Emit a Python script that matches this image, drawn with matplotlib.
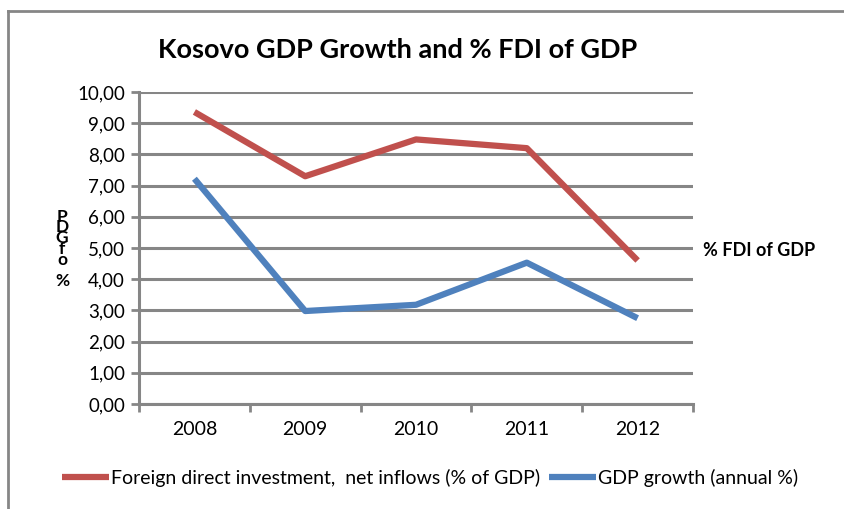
"""
Kosovo GDP growth and FDI share of GDP, line chart
"""
import matplotlib
matplotlib.use("Agg")
from matplotlib import pyplot as plt
from matplotlib.lines import Line2D
from matplotlib.ticker import FuncFormatter, FixedLocator

years = ["2008", "2009", "2010", "2011", "2012"]
fdi = [9.36, 7.30, 8.48, 8.20, 4.60]
gdp_growth = [7.22, 2.98, 3.18, 4.53, 2.75]

RED = "#c0504d"
BLUE = "#4f81bd"
GRID = "#868686"

plt.rcParams["font.family"] = ["Lato", "DejaVu Sans"]

fig = plt.figure(figsize=(8.45, 5.09), dpi=100)
W, H = 845, 509

# outer chart border (only top and left visible in the original)
fig.add_artist(Line2D([8 / W, 8 / W], [0, 1 - 11 / H], color=GRID, lw=2, transform=fig.transFigure))
fig.add_artist(Line2D([8 / W, 1], [1 - 11 / H, 1 - 11 / H], color=GRID, lw=2, transform=fig.transFigure))

ax = fig.add_axes([139 / W, 1 - 404 / H, (693 - 139) / W, (404 - 92) / H])

x = list(range(len(years)))
ax.plot(x, fdi, color=RED, lw=4.5, solid_capstyle="butt", zorder=3,
        label="Foreign direct investment,  net inflows (% of GDP)")
ax.plot(x, gdp_growth, color=BLUE, lw=4.5, solid_capstyle="butt", zorder=3,
        label="GDP growth (annual %)")

ax.set_xlim(-0.5, len(years) - 0.5)
ax.set_ylim(0, 10)
ax.set_yticks([i for i in range(11)])
ax.yaxis.set_major_formatter(FuncFormatter(lambda v, p: f"{v:.2f}".replace(".", ",")))
ax.yaxis.grid(True, color=GRID, lw=2.2)
ax.set_axisbelow(True)

ax.set_xticks(x)
ax.set_xticklabels(years)
ax.xaxis.set_minor_locator(FixedLocator([i - 0.5 for i in range(len(years) + 1)]))
ax.tick_params(axis="x", which="major", length=0, pad=12, labelsize=14)
ax.tick_params(axis="x", which="minor", length=6, width=2, color=GRID, direction="out")
ax.tick_params(axis="y", length=6, width=2, color=GRID, labelsize=13.5, pad=4)

for side in ["top", "right"]:
    ax.spines[side].set_visible(False)
for side in ["left", "bottom"]:
    ax.spines[side].set_color(GRID)
    ax.spines[side].set_linewidth(2.2)

fig.text(398 / W, 1 - 50 / H, "Kosovo GDP Growth and % FDI of GDP", ha="center", va="center",
         fontsize=19.5, fontweight="bold")
fig.text(62 / W, 1 - 249 / H, "P\nD\nG\nf\no\n\n%", ha="center", va="center",
         fontsize=12.5, fontweight="bold", linespacing=0.6)
fig.text(703 / W, 1 - 251 / H, "% FDI of GDP", ha="left", va="center",
         fontsize=13, fontweight="bold")

fig.legend(loc="center", bbox_to_anchor=(430 / W, 1 - 478 / H), ncol=2, frameon=False,
           fontsize=14, handlelength=2.4, handletextpad=0.1, columnspacing=0.5)

fig.savefig("out.png", dpi=100)
